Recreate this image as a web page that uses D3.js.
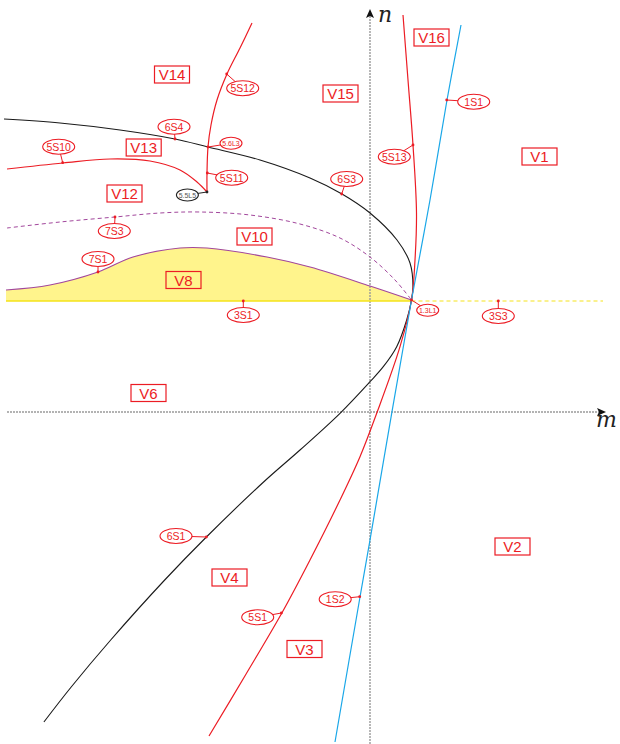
<!DOCTYPE html>
<html><head><meta charset="utf-8">
<script src="https://cdn.jsdelivr.net/npm/d3@7/dist/d3.min.js"></script>
<style>html,body{margin:0;padding:0;background:#fff}svg{display:block}</style>
</head><body>
<script>
// ---------- data (m, n) ----------
const curve6S = [[-3.66,2.93],[-3.10,2.89],[-2.50,2.82],[-1.95,2.73],[-1.62,2.65],[-1.10,2.52],[-0.60,2.34],[-0.28,2.18],[0.00,1.99],[0.27,1.72],[0.40,1.49],[0.43,1.25],[0.415,1.12],[0.367,0.92],[0.267,0.653],[0.133,0.453],[0.0,0.303],[-0.30,-0.013],[-0.70,-0.38],[-1.064,-0.70],[-1.636,-1.25],[-2.053,-1.68],[-2.593,-2.28],[-2.988,-2.75],[-3.261,-3.10]];
const curve5S = [[0.33,3.97],[0.38,3.32],[0.43,2.67],[0.465,1.99],[0.45,1.52],[0.415,1.12],[0.30,0.653],[0.067,-0.013],[-0.10,-0.447],[-0.30,-0.88],[-0.60,-1.48],[-0.883,-2.013],[-1.245,-2.63],[-1.61,-3.24]];
const curve1S = [[0.91,3.87],[0.77,3.12],[0.60,2.12],[0.415,1.12],[0.217,-0.013],[0.00,-1.28],[-0.10,-1.85],[-0.35,-3.30]];
const curve5S12 = [[-1.18,3.89],[-1.30,3.64],[-1.43,3.38],[-1.53,3.12],[-1.59,2.87],[-1.62,2.65],[-1.63,2.39],[-1.63,2.20]];
const curve5S10 = [[-3.63,2.43],[-3.07,2.49],[-2.60,2.53],[-2.20,2.51],[-1.90,2.42],[-1.73,2.30],[-1.63,2.20]];
const curve7S3 = [[-3.63,1.84],[-3.10,1.90],[-2.55,1.95],[-2.10,1.99],[-1.70,2.00],[-1.20,1.97],[-0.70,1.88],[-0.30,1.74],[0.00,1.55],[0.25,1.32],[0.415,1.12]];
const curve7S1 = [[-3.64,1.22],[-3.20,1.27],[-2.72,1.40],[-2.37,1.55],[-1.90,1.64],[-1.63,1.64],[-1.03,1.55],[-0.60,1.45],[0.00,1.26],[0.415,1.12]];
const line3S1 = [[-3.64,1.11],[0.415,1.11]];
const line3S3 = [[0.415,1.11],[2.33,1.11]];
const axisM = [[-3.63,0],[2.33,0]];
const axisN = [[0,-3.32],[0,4.00]];

const regionNames = ["V14","V13","V12","V10","V8","V15","V16","V1","V6","V4","V3","V2"];
const regionM = [-1.98,-2.263,-2.455,-1.155,-1.865,-0.295,0.615,1.695,-2.215,-1.405,-0.655,1.425];
const regionN = [3.375,2.645,2.185,1.755,1.32,3.185,3.745,2.555,0.19,-1.655,-2.37,-1.345];

const tagNames = ["5S12","6S4","5.6L3","5S10","5S11","5.5L5","7S3","7S1","3S1","1S1","5S13","6S3","1.3L1","3S3","6S1","1S2","5S1"];
const tagM =     [-1.273,-1.96,-1.39,-3.113,-1.383,-1.826,-2.557,-2.72,-1.267,1.037,0.243,-0.233,0.577,1.283,-1.94,-0.348,-1.123];
const tagN =     [3.237,2.853,2.687,2.653,2.343,2.17,1.81,1.53,0.97,3.103,2.553,2.33,1.017,0.96,-1.24,-1.873,-2.053];
const anchorM =  [-1.433,-1.95,-1.62,-3.073,-1.627,-1.63,-2.55,-2.72,-1.267,0.767,0.43,-0.283,0.415,1.283,-1.636,-0.103,-0.886];
const anchorN =  [3.38,2.73,2.65,2.493,2.39,2.20,1.95,1.40,1.11,3.12,2.67,2.18,1.12,1.11,-1.25,-1.847,-2.01];
const tagSmall = ["5.6L3","5.5L5","1.3L1"];
const tagBlack = ["5.5L5"];

// ---------- scales ----------
const W = 620, H = 744;
const X = d3.scaleLinear().domain([-3.7, 2.5]).range([0, W]);
const Y = d3.scaleLinear().domain([-3.32, 4.12]).range([H, 0]);

const RED = "#ec1c24", BLUE = "#1aa7e8", PURPLE = "#a2479c", BLACK = "#1a1a1a";

const svg = d3.select("body").append("svg").attr("width", W).attr("height", H);
const line = d3.line().x(d => X(d[0])).y(d => Y(d[1])).curve(d3.curveCatmullRom.alpha(0.5));
const straight = d3.line().x(d => X(d[0])).y(d => Y(d[1]));

// yellow region V8
const area = d3.area().x(d => X(d[0])).y0(Y(1.11)).y1(d => Y(d[1])).curve(d3.curveCatmullRom.alpha(0.5));
svg.append("path").attr("d", area(curve7S1)).attr("fill", "#fff48c");

// axes
svg.append("path").attr("d", straight(axisM)).attr("stroke", "#9a9a9a").attr("stroke-width", 1.4).attr("stroke-dasharray", "2,1").attr("fill", "none");
svg.append("path").attr("d", straight(axisN)).attr("stroke", "#9a9a9a").attr("stroke-width", 1.4).attr("stroke-dasharray", "2,1").attr("fill", "none");
// arrow heads
const mx = X(axisM[1][0]), my = Y(0);
svg.append("path").attr("d", `M${mx+3},${my} L${mx-6},${my-4} L${mx-4},${my} L${mx-6},${my+4} Z`).attr("fill", "#111");
const nx = X(0), ny = Y(axisN[1][1]);
svg.append("path").attr("d", `M${nx},${ny-3} L${nx-4},${ny+6} L${nx},${ny+4} L${nx+4},${ny+6} Z`).attr("fill", "#111");
svg.append("text").attr("x", nx + 8).attr("y", ny + 10).text("n")
  .attr("font-family", "DejaVu Serif, serif").attr("font-style", "italic").attr("font-size", 22).attr("fill", "#222");
svg.append("text").attr("x", mx - 7).attr("y", my + 15).text("m")
  .attr("font-family", "DejaVu Serif, serif").attr("font-style", "italic").attr("font-size", 22).attr("fill", "#222");

// lines
svg.append("path").attr("d", straight(line3S1)).attr("stroke", "#f5e31a").attr("stroke-width", 1.5).attr("fill", "none");
svg.append("path").attr("d", straight(line3S3)).attr("stroke", "#f5e31a").attr("stroke-width", 1).attr("stroke-dasharray", "4,3").attr("fill", "none");
svg.append("path").attr("d", line(curve7S3)).attr("stroke", PURPLE).attr("stroke-width", 1).attr("stroke-dasharray", "4,3").attr("fill", "none");
svg.append("path").attr("d", line(curve7S1)).attr("stroke", PURPLE).attr("stroke-width", 1.1).attr("fill", "none");
svg.append("path").attr("d", line(curve6S)).attr("stroke", BLACK).attr("stroke-width", 1.1).attr("fill", "none");
svg.append("path").attr("d", line(curve5S10)).attr("stroke", RED).attr("stroke-width", 1.2).attr("fill", "none");
svg.append("path").attr("d", line(curve5S12)).attr("stroke", RED).attr("stroke-width", 1.2).attr("fill", "none");
svg.append("path").attr("d", line(curve5S)).attr("stroke", RED).attr("stroke-width", 1.2).attr("fill", "none");
svg.append("path").attr("d", line(curve1S)).attr("stroke", BLUE).attr("stroke-width", 1.2).attr("fill", "none");

// region labels
regionNames.forEach((name, i) => {
  const cx = X(regionM[i]), cy = Y(regionN[i]);
  svg.append("rect").attr("x", cx - 17.5).attr("y", cy - 8.5).attr("width", 35).attr("height", 17)
    .attr("fill", name === "V8" ? "none" : "#fff").attr("stroke", RED).attr("stroke-width", 1.2);
  svg.append("text").attr("x", cx).attr("y", cy + 5.5).attr("text-anchor", "middle")
    .attr("font-family", "Liberation Sans, Arial, sans-serif").attr("font-size", 15).attr("fill", RED).text(name);
});

// tags
tagNames.forEach((name, i) => {
  const small = tagSmall.includes(name), black = tagBlack.includes(name);
  const col = black ? "#222" : RED;
  const cx = X(tagM[i]), cy = Y(tagN[i]), ax = X(anchorM[i]), ay = Y(anchorN[i]);
  svg.append("line").attr("x1", ax).attr("y1", ay).attr("x2", cx).attr("y2", cy).attr("stroke", col).attr("stroke-width", 1);
  svg.append("circle").attr("cx", ax).attr("cy", ay).attr("r", 1.4).attr("fill", col);
  svg.append("ellipse").attr("cx", cx).attr("cy", cy).attr("rx", small ? 11 : 16).attr("ry", small ? 6 : 7.5)
    .attr("fill", "#fff").attr("stroke", col).attr("stroke-width", 1.1);
  svg.append("text").attr("x", cx).attr("y", cy + (small ? 2.5 : 3.8)).attr("text-anchor", "middle")
    .attr("font-family", "Liberation Sans, Arial, sans-serif").attr("font-size", small ? 7 : 10.5)
    .attr("fill", black ? "#555" : RED).text(name);
});
</script>
</body></html>
